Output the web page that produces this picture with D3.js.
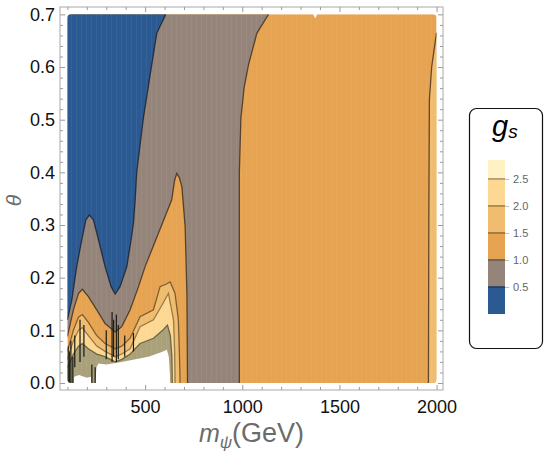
<!DOCTYPE html>
<html>
<head>
<meta charset="utf-8">
<script src="https://cdn.jsdelivr.net/npm/d3@7"></script>
<style>
  body { margin: 0; background: #fff; }
  text { font-family: "Liberation Sans", Arial, sans-serif; }
</style>
</head>
<body>
<div id="chart"></div>
<script>
// contour levels of g_s and their fill colours
const levels = [0, 0.5, 1.0, 1.5, 2.0, 2.5, 2.85];
const levelColors = ["#2b5a92", "#958479", "#e6a351", "#f0bc70", "#fcd893", "#fef2c5"];
const legendTicks = [0.5, 1.0, 1.5, 2.0, 2.5];

const xMajor = [500, 1000, 1500, 2000];
const yMajor = [0, 0.1, 0.2, 0.3, 0.4, 0.5, 0.6, 0.7];

// contour boundaries: [m_psi (GeV), theta]
const edgeBlue = [[100,0.12],[123,0.158],[148,0.221],[174,0.272],[195,0.31],[213,0.319],[234,0.31],
  [260,0.272],[294,0.221],[325,0.183],[346,0.169],[371,0.183],[406,0.221],[428,0.272],[440,0.304],
  [449,0.348],[457,0.401],[491,0.503],[534,0.604],[560,0.664],[606,0.70]];
const edgeGrayLow = [[100,0.088],[131,0.139],[157,0.170],[177,0.178],[208,0.164],[251,0.139],[294,0.113],
  [346,0.097],[380,0.107],[423,0.139],[466,0.183],[500,0.221],[568,0.284],[637,0.348],[652,0.385],
  [663,0.398],[676,0.39],[689,0.373],[706,0.297],[715,0.170],[718,0]];
const edgeGrayRight = [[1135,0.70],[1075,0.664],[1032,0.604],[1010,0.562],[993,0.503],[985,0.40],[985,0]];
const edge15 = [[100,0.06],[131,0.1],[157,0.125],[177,0.13],[208,0.115],[251,0.09],[294,0.075],[346,0.065],
  [380,0.07],[423,0.085],[474,0.126],[543,0.139],[577,0.183],[610,0.188],[629,0.192],[654,0.170],
  [671,0.12],[677,0.05],[680,0]];
const edge20 = [[100,0.045],[131,0.08],[157,0.1],[177,0.105],[208,0.09],[251,0.07],[294,0.06],[346,0.05],
  [380,0.055],[423,0.065],[474,0.107],[543,0.12],[590,0.15],[620,0.170],[646,0.12],[652,0.06],[654,0]];
const edge25 = [[100,0.03],[131,0.055],[157,0.07],[177,0.075],[208,0.065],[251,0.055],[294,0.05],[346,0.04],
  [380,0.045],[423,0.055],[474,0.075],[543,0.085],[590,0.1],[615,0.11],[630,0.09],[638,0.05],[640,0]];
const noData = [[243,0],[250,0.03],[260,0.037],[300,0.035],[380,0.04],[450,0.045],[517,0.05],[586,0.059],
  [612,0.063],[622,0.05],[627,0.02],[629,0]];
const noDataLeft = [[132,0],[135,0.012],[160,0.015],[200,0.01],[222,0.012],[225,0]];
const edgeRight = [[2000,0.665],[1992,0.645],[1975,0.601],[1963,0.538],[1960,0.3],[1958,0]];
const topEdge = [[100,0.7],[1365,0.7],[1375,0.692],[1385,0.7],[2000,0.7]];
// dark spikes in the noisy corner: [m_psi, theta from, theta to]
const spikes = [[104,0,0.07],[110,0,0.06],[118,0,0.08],[128,0,0.05],[138,0.03,0.09],[165,0.04,0.12],
  [185,0.05,0.11],[226,0,0.035],[243,0,0.03],[300,0.045,0.1],[330,0.04,0.135],[338,0.05,0.12],
  [352,0.04,0.13],[362,0.045,0.11],[395,0.05,0.09],[440,0.06,0.095]];

const W = 545, H = 460;
const frame = { left: 60, right: 443, top: 7, bottom: 390 };

const svg = d3.select("#chart").append("svg")
  .attr("width", W).attr("height", H);

const x = d3.scaleLinear().domain([62, 2033]).range([frame.left, frame.right]);
const y = d3.scaleLinear().domain([-0.0133, 0.714]).range([frame.bottom, frame.top]);

const poly = d3.line().x(d => x(d[0])).y(d => y(d[1])).curve(d3.curveLinearClosed);
const line = d3.line().x(d => x(d[0])).y(d => y(d[1]));

// clip data to the sampled region with slightly rounded top corners
const defs = svg.append("defs");
defs.append("clipPath").attr("id", "dataclip").append("rect")
  .attr("x", x(100)).attr("y", y(0.7))
  .attr("width", x(2000) - x(100)).attr("height", y(0) - y(0.7))
  .attr("rx", 4);
const pat = defs.append("pattern").attr("id", "streaks")
  .attr("patternUnits", "userSpaceOnUse").attr("width", 5).attr("height", 40);
pat.append("rect").attr("x", 1).attr("width", 1).attr("height", 40).attr("fill", "#fff").attr("opacity", 0.05);

const plot = svg.append("g").attr("clip-path", "url(#dataclip)");

// orange background (1.0 - 1.5)
plot.append("path").attr("d", poly(topEdge.concat([[2000, 0], [100, 0]])))
  .attr("fill", levelColors[2]);
// thin lighter strip on the right edge
plot.append("path").attr("d", poly(edgeRight.concat([[2000, 0]])))
  .attr("fill", levelColors[3]);
// gray (0.5 - 1.0)
plot.append("path")
  .attr("d", poly([[100, 0.7]].concat(edgeGrayRight, [[718, 0]], edgeGrayLow.slice().reverse())))
  .attr("fill", levelColors[1]);
// blue (< 0.5)
plot.append("path").attr("d", poly(edgeBlue.concat([[100, 0.7]])))
  .attr("fill", levelColors[0]);
// higher bands in the lower-left corner
plot.append("path").attr("d", poly(edge15.concat([[100, 0]]))).attr("fill", levelColors[3]);
plot.append("path").attr("d", poly(edge20.concat([[100, 0]]))).attr("fill", levelColors[4]);
plot.append("path").attr("d", poly(edge25.concat([[100, 0]]))).attr("fill", "#aaa17a");

plot.append("rect")
  .attr("x", x(100)).attr("y", y(0.7))
  .attr("width", x(2000) - x(100)).attr("height", y(0) - y(0.7))
  .attr("fill", "url(#streaks)");

plot.append("path").attr("d", poly(noData)).attr("fill", "#fff");
plot.append("path").attr("d", poly(noDataLeft)).attr("fill", "#fff");

// contour lines
const lines = [
  [edgeBlue, "rgba(20,25,35,0.75)"],
  [edgeGrayLow, "rgba(40,30,20,0.7)"],
  [edgeGrayRight, "rgba(40,30,20,0.7)"],
  [edge15, "rgba(70,50,20,0.65)"],
  [edge20, "rgba(90,70,30,0.6)"],
  [edge25, "rgba(70,65,40,0.7)"],
  [edgeRight, "rgba(40,30,20,0.7)"]
];
lines.forEach(([pts, c]) => {
  plot.append("path").attr("d", line(pts))
    .attr("fill", "none").attr("stroke", c).attr("stroke-width", 1.3);
});
plot.selectAll(".spike").data(spikes).enter().append("line")
  .attr("class", "spike")
  .attr("x1", d => x(d[0])).attr("x2", d => x(d[0]))
  .attr("y1", d => y(d[1])).attr("y2", d => y(d[2]))
  .attr("stroke", "#1a1a14").attr("stroke-width", 1.2);

// frame with inward ticks on all four sides
const xMinor = d3.range(100, 2001, 100).filter(v => !xMajor.includes(v));
const yMinor = d3.range(0, 71, 2).map(v => v / 100).filter(v => !yMajor.some(m => Math.abs(m - v) < 1e-6));

function styleAxis(g) {
  g.select(".domain").remove();
  g.selectAll(".tick line").attr("stroke", "#999");
  g.selectAll("text").attr("fill", "#111").attr("font-size", 18);
}

svg.append("g").attr("transform", `translate(0,${frame.bottom})`)
  .call(d3.axisBottom(x).tickValues(xMajor).tickSize(-5).tickPadding(10).tickFormat(d3.format("d"))).call(styleAxis);
svg.append("g").attr("transform", `translate(0,${frame.bottom})`)
  .call(d3.axisBottom(x).tickValues(xMinor).tickSize(-3).tickFormat("")).call(styleAxis);
svg.append("g").attr("transform", `translate(0,${frame.top})`)
  .call(d3.axisTop(x).tickValues(xMajor).tickSize(-5).tickFormat("")).call(styleAxis);
svg.append("g").attr("transform", `translate(0,${frame.top})`)
  .call(d3.axisTop(x).tickValues(xMinor).tickSize(-3).tickFormat("")).call(styleAxis);

svg.append("g").attr("transform", `translate(${frame.left},0)`)
  .call(d3.axisLeft(y).tickValues(yMajor).tickSize(-5).tickPadding(5).tickFormat(d3.format(".1f"))).call(styleAxis);
svg.append("g").attr("transform", `translate(${frame.left},0)`)
  .call(d3.axisLeft(y).tickValues(yMinor).tickSize(-3).tickFormat("")).call(styleAxis);
svg.append("g").attr("transform", `translate(${frame.right},0)`)
  .call(d3.axisRight(y).tickValues(yMajor).tickSize(-5).tickFormat("")).call(styleAxis);
svg.append("g").attr("transform", `translate(${frame.right},0)`)
  .call(d3.axisRight(y).tickValues(yMinor).tickSize(-3).tickFormat("")).call(styleAxis);

svg.append("rect")
  .attr("x", frame.left).attr("y", frame.top)
  .attr("width", frame.right - frame.left).attr("height", frame.bottom - frame.top)
  .attr("fill", "none").attr("stroke", "#aaa").attr("stroke-width", 1);

// axis titles
const xt = svg.append("text")
  .attr("x", (frame.left + frame.right) / 2).attr("y", 442)
  .attr("text-anchor", "middle").attr("fill", "#6b6b6b").attr("font-size", 27);
xt.append("tspan").attr("font-style", "italic").attr("font-size", 25).text("m");
xt.append("tspan").attr("font-style", "italic").attr("font-size", 17).attr("dy", 6).text("ψ");
xt.append("tspan").attr("dy", -6).text("(GeV)");

svg.append("text")
  .attr("transform", `translate(21,${(frame.top + frame.bottom) / 2 + 2}) rotate(-90)`)
  .attr("text-anchor", "middle").attr("fill", "#6b6b6b")
  .attr("font-size", 21).attr("font-style", "italic").text("θ");

// legend
const leg = svg.append("g");
leg.append("rect")
  .attr("x", 469.5).attr("y", 108.5).attr("width", 73).attr("height", 240)
  .attr("rx", 7).attr("fill", "#fff").attr("stroke", "#111").attr("stroke-width", 1.2);
const lt = leg.append("text").attr("x", 492).attr("y", 136)
  .attr("font-style", "italic").attr("font-size", 29).attr("fill", "#000");
lt.append("tspan").text("g");
lt.append("tspan").attr("font-size", 19).attr("dy", 2).text("s");

const ly = d3.scaleLinear().domain([levels[0], levels[levels.length - 1]]).range([314, 160]);
const barX = 488, barW = 17;
leg.selectAll(".band").data(levelColors).enter().append("rect")
  .attr("class", "band")
  .attr("x", barX).attr("width", barW)
  .attr("y", (d, i) => ly(levels[i + 1]))
  .attr("height", (d, i) => ly(levels[i]) - ly(levels[i + 1]))
  .attr("fill", d => d);
leg.selectAll(".bline").data(legendTicks).enter().append("line")
  .attr("class", "bline")
  .attr("x1", barX).attr("x2", barX + barW)
  .attr("y1", d => ly(d)).attr("y2", d => ly(d))
  .attr("stroke", (d, i) => d3.color(levelColors[i]).darker(1.2)).attr("stroke-width", 1.5);
leg.append("g").attr("transform", `translate(${barX + barW},0)`)
  .call(d3.axisRight(ly).tickValues(legendTicks).tickSize(4).tickPadding(4).tickFormat(d3.format(".1f")))
  .call(g => {
    g.select(".domain").remove();
    g.selectAll(".tick line").attr("stroke", "#bbb");
    g.selectAll("text").attr("fill", "#666").attr("font-size", 11);
  });
</script>
</body>
</html>
